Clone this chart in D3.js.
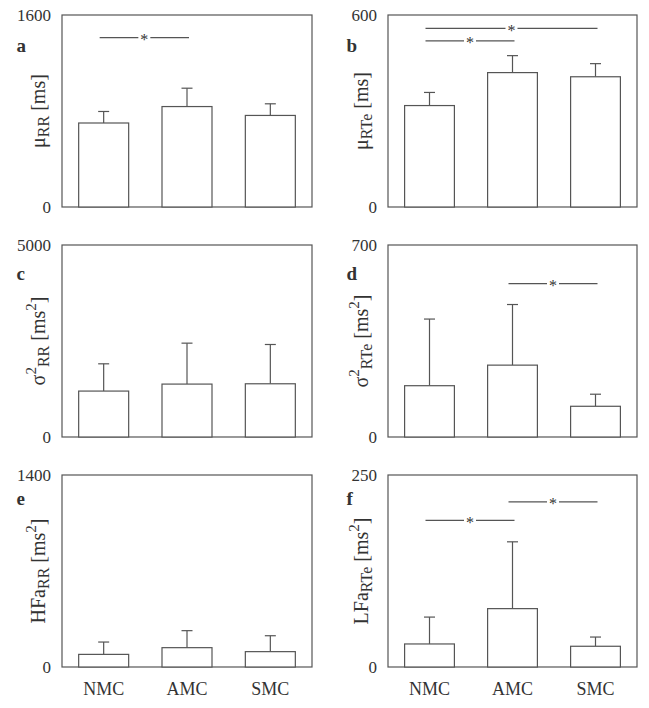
<!DOCTYPE html>
<html>
<head>
<meta charset="utf-8">
<script src="https://cdn.jsdelivr.net/npm/d3@7/dist/d3.min.js"></script>
<style>
  html, body { margin: 0; padding: 0; background: #fff; }
  svg { display: block; }
  text { font-family: "Liberation Serif", "Times New Roman", serif; fill: #333; }
</style>
</head>
<body>
<svg id="chart" width="649" height="708"></svg>
<script>
// ---------- data ----------
const categories = ["NMC", "AMC", "SMC"];
const panelIds = ["a", "b", "c", "d", "e", "f"];
const yMax = [1600, 600, 5000, 700, 1400, 250];

const meanA = [700, 837, 763];   const sdA = [96, 153, 97];
const meanB = [317, 420, 407];   const sdB = [41, 53, 41];
const meanC = [1196, 1378, 1386]; const sdC = [710, 1066, 1023];
const meanD = [187, 262, 112];   const sdD = [243, 221, 44];
const meanE = [92, 141, 112];    const sdE = [90, 124, 116];
const meanF = [30, 76, 27];      const sdF = [35, 87, 12];

// significance brackets: [fromIndex, toIndex, yValue]
const sigA = [[0, 1, 1411]];
const sigB = [[0, 2, 558], [0, 1, 519]];
const sigC = [];
const sigD = [[1, 2, 559]];
const sigE = [];
const sigF = [[0, 1, 191], [1, 2, 215]];

// axis labels: segments [text, kind] kind: n normal, sub, sup
const labelA = [["μ", "n"], ["RR", "sub"], [" [ms]", "n"]];
const labelB = [["μ", "n"], ["RTe", "sub"], [" [ms]", "n"]];
const labelC = [["σ", "n"], ["2", "sup"], ["RR", "sub"], [" [ms", "n"], ["2", "sup"], ["]", "n"]];
const labelD = [["σ", "n"], ["2", "sup"], ["RTe", "sub"], [" [ms", "n"], ["2", "sup"], ["]", "n"]];
const labelE = [["HFa", "n"], ["RR", "sub"], [" [ms", "n"], ["2", "sup"], ["]", "n"]];
const labelF = [["LFa", "n"], ["RTe", "sub"], [" [ms", "n"], ["2", "sup"], ["]", "n"]];

const means = [meanA, meanB, meanC, meanD, meanE, meanF];
const sds = [sdA, sdB, sdC, sdD, sdE, sdF];
const sigs = [sigA, sigB, sigC, sigD, sigE, sigF];
const labels = [labelA, labelB, labelC, labelD, labelE, labelF];

// ---------- layout ----------
const FONT = '"Liberation Serif", "Times New Roman", serif';
const colX = [62, 388], colW = [250, 249];
const rowY = [15, 245, 475], plotH = 192;
const letterX = [16.5, 346.5];
const letterBase = [52, 280, 505];
const labelBaseX = [45, 368];
const stroke = "#555";

const svg = d3.select("#chart");

panelIds.forEach((id, p) => {
  const col = p % 2, row = Math.floor(p / 2);
  const x0 = colX[col], w = colW[col], y0 = rowY[row];
  const g = svg.append("g");

  const x = d3.scaleBand().domain(categories).range([x0, x0 + w])
    .paddingInner(0.4).paddingOuter(0.2);
  const y = d3.scaleLinear().domain([0, yMax[p]]).range([y0 + plotH, y0]);

  // frame
  g.append("rect").attr("x", x0).attr("y", y0).attr("width", w).attr("height", plotH)
    .attr("fill", "none").attr("stroke", stroke).attr("stroke-width", 1.2);

  const rows = categories.map((c, i) => ({ c, m: means[p][i], s: sds[p][i] }));

  // error bars (upper only)
  g.selectAll(".err").data(rows).join("line")
    .attr("x1", d => x(d.c) + x.bandwidth() / 2).attr("x2", d => x(d.c) + x.bandwidth() / 2)
    .attr("y1", d => y(d.m)).attr("y2", d => y(d.m + d.s))
    .attr("stroke", stroke).attr("stroke-width", 1.2);
  g.selectAll(".cap").data(rows).join("line")
    .attr("x1", d => x(d.c) + x.bandwidth() / 2 - 5.5).attr("x2", d => x(d.c) + x.bandwidth() / 2 + 5.5)
    .attr("y1", d => y(d.m + d.s)).attr("y2", d => y(d.m + d.s))
    .attr("stroke", stroke).attr("stroke-width", 1.2);

  // bars
  g.selectAll(".bar").data(rows).join("rect")
    .attr("x", d => x(d.c)).attr("width", x.bandwidth())
    .attr("y", d => y(d.m)).attr("height", d => y(0) - y(d.m))
    .attr("fill", "#fff").attr("stroke", stroke).attr("stroke-width", 1.2);

  // y axis ticks
  const ya = g.append("g").attr("transform", `translate(${x0},0)`)
    .call(d3.axisLeft(y).tickValues([0, yMax[p]]).tickSize(0).tickPadding(11).tickFormat(d3.format("d")));
  ya.attr("font-family", null);
  ya.select(".domain").remove();
  ya.selectAll("text").style("font-size", "17px").style("font-family", FONT).attr("fill", "#333");

  // x axis labels on bottom row
  if (row === 2) {
    const xa = g.append("g").attr("transform", `translate(0,${y0 + plotH})`)
      .call(d3.axisBottom(x).tickSize(0).tickPadding(15));
    xa.attr("font-family", null);
    xa.select(".domain").remove();
    xa.selectAll("text").style("font-size", "18px").style("font-family", FONT).attr("fill", "#333");
  }

  // significance
  sigs[p].forEach(([a, b, v]) => {
    const xa1 = x(categories[a]) + x.bandwidth() / 2 - 4;
    const xb1 = x(categories[b]) + x.bandwidth() / 2 + 2;
    const mid = (xa1 + xb1) / 2;
    const yy = y(v);
    g.append("line").attr("x1", xa1).attr("x2", mid - 6).attr("y1", yy).attr("y2", yy)
      .attr("stroke", stroke).attr("stroke-width", 1.2);
    g.append("line").attr("x1", mid + 6).attr("x2", xb1).attr("y1", yy).attr("y2", yy)
      .attr("stroke", stroke).attr("stroke-width", 1.2);
    g.append("text").attr("x", mid).attr("y", yy).attr("dy", "0.47em")
      .attr("text-anchor", "middle").style("font-size", "16px").style("font-family", FONT)
      .attr("fill", "#444").text("*");
  });

  // panel letter
  g.append("text").attr("x", letterX[col]).attr("y", letterBase[row])
    .style("font-size", "19px").style("font-weight", "bold").style("font-family", FONT).text(id);

  // y label
  const t = g.append("text")
    .attr("transform", `translate(${labelBaseX[col]},${y0 + plotH / 2}) rotate(-90)`)
    .attr("text-anchor", "middle").style("font-size", "20px").style("font-family", FONT);
  let shift = 0;
  labels[p].forEach(([s, kind]) => {
    let target = 0, fs = 20;
    if (kind === "sub") { target = 4; fs = 16; }
    if (kind === "sup") { target = -9.5; fs = 15; }
    t.append("tspan").attr("dy", target - shift).style("font-size", fs + "px").text(s);
    shift = target;
  });
});
</script>
</body>
</html>
